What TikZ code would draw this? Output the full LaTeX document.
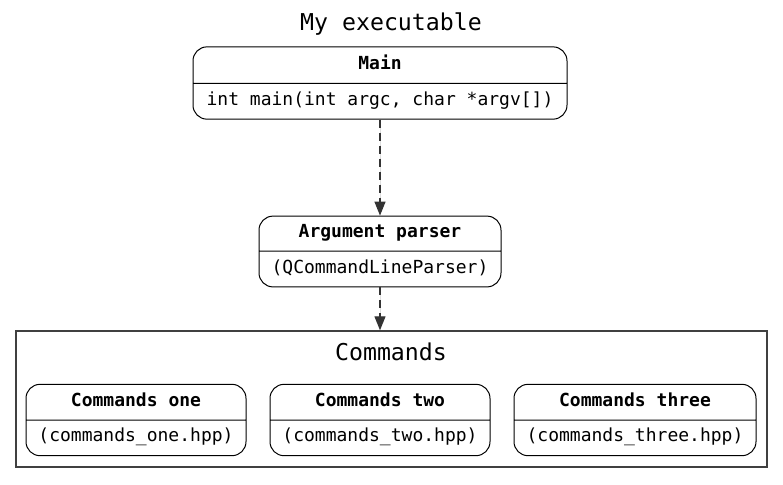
\documentclass[tikz,border=0pt]{standalone}
\usepackage{fontspec}
\setmonofont{DejaVu Sans Mono}
\usetikzlibrary{shapes.multipart,arrows.meta}
\newcommand{\partstrut}{\rule[-2.7pt]{0pt}{8pt}}

\begin{document}
\begin{tikzpicture}[x=0.5pt,y=-0.5pt,
  compbox/.style={draw, rectangle split, rectangle split parts=2, rounded corners=7pt,
    inner xsep=6pt, inner ysep=3.9pt, line width=0.5pt,
    font=\ttfamily\fontsize{9}{11}\selectfont},
  deparrow/.style={-{Triangle[length=7pt,width=5.5pt]}, dash pattern=on 4pt off 2.5pt,
    line width=0.6pt, draw=black!80, fill=black},
  bigtitle/.style={font=\ttfamily\fontsize{11.6}{14}\selectfont}]
\useasboundingbox (0,0) rectangle (783,484);
% executable
\node[bigtitle] (exetitle) at (391,24) {My executable};
\node[compbox, minimum width=187pt] (main) at (380,83)
  {\textbf{Main}\partstrut \nodepart{two} int main(int argc, char *argv[])\partstrut};
\node[compbox, minimum width=121pt] (parser) at (380,251.5)
  {\textbf{Argument parser}\partstrut \nodepart{two} (QCommandLineParser)\partstrut};
% commands group
\node[draw, draw=black!75, line width=0.7pt, inner sep=0pt,
  minimum width=375.5pt, minimum height=68pt] (cmdframe) at (391.5,399) {};
\node[bigtitle] (cmdtitle) at (391,352) {Commands};
\node[compbox, minimum width=110pt] (cmdone) at (136,420)
  {\textbf{Commands one}\partstrut \nodepart{two} (commands\_one.hpp)\partstrut};
\node[compbox, minimum width=110pt] (cmdtwo) at (380,420)
  {\textbf{Commands two}\partstrut \nodepart{two} (commands\_two.hpp)\partstrut};
\node[compbox, minimum width=121pt] (cmdthree) at (635,420)
  {\textbf{Commands three}\partstrut \nodepart{two} (commands\_three.hpp)\partstrut};
% dependencies
\draw[deparrow] (main.south) -- (parser.north);
\draw[deparrow] (parser.south) -- (parser.south |- cmdframe.north);
\end{tikzpicture}
\end{document}
